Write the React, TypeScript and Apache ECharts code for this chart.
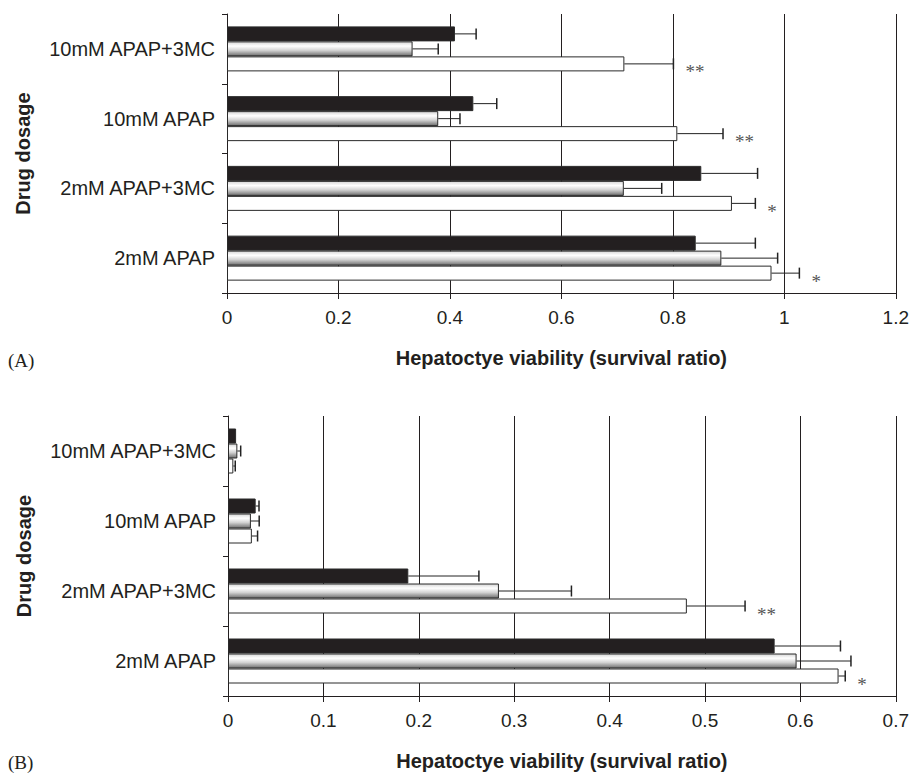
import React, { useEffect, useRef } from "react";
import * as echarts from "echarts";

// Categories, bottom to top (ECharts category y-axis starts at the bottom)
const categories = ["2mM APAP", "2mM APAP+3MC", "10mM APAP", "10mM APAP+3MC"];

// Panel A
const aBlack = [0.841, 0.851, 0.442, 0.409];
const aBlackErr = [0.107, 0.101, 0.042, 0.038];
const aGray = [0.887, 0.712, 0.379, 0.333];
const aGrayErr = [0.101, 0.068, 0.039, 0.046];
const aWhite = [0.977, 0.906, 0.808, 0.713];
const aWhiteErr = [0.05, 0.042, 0.082, 0.088];
const aSig = ["*", "*", "**", "**"];
const aTicks = { min: 0, max: 1.2, interval: 0.2 };

// Panel B
const bBlack = [0.573, 0.189, 0.029, 0.0085];
const bBlackErr = [0.069, 0.074, 0.0035, 0];
const bGray = [0.596, 0.284, 0.024, 0.0098];
const bGrayErr = [0.057, 0.076, 0.0087, 0.0035];
const bWhite = [0.64, 0.481, 0.025, 0.0056];
const bWhiteErr = [0.007, 0.061, 0.006, 0.002];
const bSig = ["*", "**", "", ""];
const bTicks = { min: 0, max: 0.7, interval: 0.1 };

const xTitle = "Hepatoctye viability (survival ratio)";
const yTitle = "Drug dosage";
const panelLabels = ["(A)", "(B)"];

const INK = "#231f20";
const SANS = "'Liberation Sans', Arial, Helvetica, sans-serif";
const SERIF = "'Liberation Serif', 'Times New Roman', serif";
const BAR_W = 15;

const grayGradient = new echarts.graphic.LinearGradient(0, 0, 0, 1, [
  { offset: 0, color: "#d6d6d6" },
  { offset: 0.3, color: "#ffffff" },
  { offset: 0.6, color: "#d4d4d4" },
  { offset: 1, color: "#6e6e6e" },
]);

function makeAxes(gridIndex: number, ticks: { min: number; max: number; interval: number }) {
  const xAxis = {
    gridIndex,
    type: "value",
    min: ticks.min,
    max: ticks.max,
    interval: ticks.interval,
    name: xTitle,
    nameLocation: "middle",
    nameGap: 55,
    nameTextStyle: { fontFamily: SANS, fontSize: 20, fontWeight: "bold", color: INK },
    axisLine: { show: true, lineStyle: { color: INK, width: 1 } },
    axisTick: { show: true, length: 6, lineStyle: { color: INK, width: 1 } },
    axisLabel: { fontFamily: SANS, fontSize: 19, color: INK, margin: 15 },
    splitLine: { show: true, lineStyle: { color: INK, width: 1 } },
  };
  const yAxis = {
    gridIndex,
    type: "category",
    data: categories,
    name: yTitle,
    nameLocation: "middle",
    nameRotate: 90,
    nameGap: 194,
    nameTextStyle: { fontFamily: SANS, fontSize: 20, fontWeight: "bold", color: INK },
    axisLine: { show: true, lineStyle: { color: INK, width: 1 } },
    axisTick: { show: true, length: 5, lineStyle: { color: INK, width: 1 } },
    axisLabel: { fontFamily: SANS, fontSize: 20, color: INK, margin: 12 },
    splitLine: { show: false },
  };
  return { xAxis, yAxis };
}

function barSeries(axisIndex: number, values: number[], color: any) {
  return {
    type: "bar",
    xAxisIndex: axisIndex,
    yAxisIndex: axisIndex,
    data: values,
    barWidth: BAR_W,
    barGap: "0%",
    itemStyle: { color, borderColor: "#2a2a2a", borderWidth: 1 },
    z: 3,
  };
}

function errSeries(axisIndex: number, values: number[], errs: number[], slot: number, sig?: string[]) {
  const offset = (slot - 1) * BAR_W;
  return {
    type: "custom",
    xAxisIndex: axisIndex,
    yAxisIndex: axisIndex,
    encode: { x: 0, y: 1 },
    data: values.map((v, i) => [v, i, errs[i]]),
    z: 5,
    renderItem: (params: any, api: any) => {
      const v = api.value(0);
      const c = api.value(1);
      const e = api.value(2);
      const p0 = api.coord([v, c]);
      const p1 = api.coord([v + e, c]);
      const y = p0[1] + offset;
      const children: any[] = [];
      if (e > 0) {
        children.push({
          type: "line",
          shape: { x1: p0[0], y1: y, x2: p1[0], y2: y },
          style: { stroke: "#222", lineWidth: 1 },
        });
        children.push({
          type: "line",
          shape: { x1: p1[0], y1: y - 5.5, x2: p1[0], y2: y + 5.5 },
          style: { stroke: "#222", lineWidth: 1.5 },
        });
      }
      const s = sig ? sig[params.dataIndex] : "";
      if (s) {
        children.push({
          type: "text",
          x: p1[0] + 12,
          y: y + 8,
          style: {
            text: s,
            fill: "#555",
            font: `19px ${SERIF}`,
            align: "left",
            verticalAlign: "middle",
          },
        });
      }
      return { type: "group", children };
    },
  };
}

export default function App() {
  const ref = useRef<HTMLDivElement>(null);
  useEffect(() => {
    if (!ref.current) return;
    const chart = echarts.init(ref.current, undefined, { renderer: "svg" });
    const a = makeAxes(0, aTicks);
    const b = makeAxes(1, bTicks);
    const option: any = {
      animation: false,
      backgroundColor: "#ffffff",
      grid: [
        { left: 227, top: 14, width: 670, height: 279 },
        { left: 228, top: 416, width: 668, height: 280 },
      ],
      xAxis: [a.xAxis, b.xAxis],
      yAxis: [a.yAxis, b.yAxis],
      graphic: [
        {
          type: "text",
          left: 8,
          top: 351,
          style: { text: panelLabels[0], font: `19px ${SERIF}`, fill: INK },
        },
        {
          type: "text",
          left: 8,
          top: 753,
          style: { text: panelLabels[1], font: `19px ${SERIF}`, fill: INK },
        },
      ],
      series: [
        barSeries(0, aBlack, INK),
        barSeries(0, aGray, grayGradient),
        barSeries(0, aWhite, "#ffffff"),
        errSeries(0, aBlack, aBlackErr, 0),
        errSeries(0, aGray, aGrayErr, 1),
        errSeries(0, aWhite, aWhiteErr, 2, aSig),
        barSeries(1, bBlack, INK),
        barSeries(1, bGray, grayGradient),
        barSeries(1, bWhite, "#ffffff"),
        errSeries(1, bBlack, bBlackErr, 0),
        errSeries(1, bGray, bGrayErr, 1),
        errSeries(1, bWhite, bWhiteErr, 2, bSig),
      ],
    };
    chart.setOption(option);
    return () => chart.dispose();
  }, []);
  return (
    <div
      ref={ref}
      style={{ position: "absolute", left: 0, top: 0, width: 912, height: 774 }}
    />
  );
}
